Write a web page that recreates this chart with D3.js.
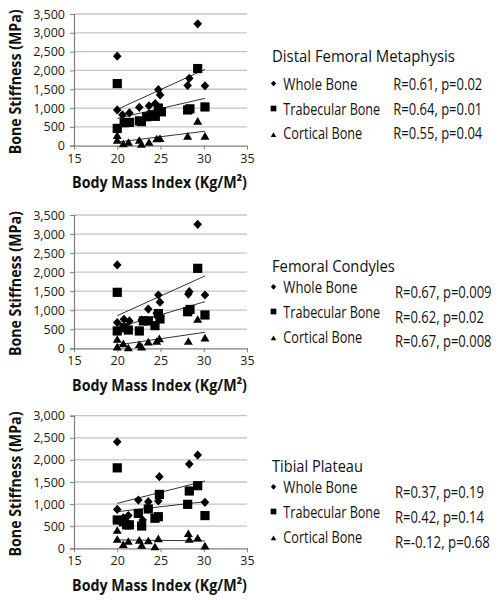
<!DOCTYPE html>
<html><head><meta charset="utf-8">
<script src="https://cdn.jsdelivr.net/npm/d3@7"></script>
<style>body{margin:0;background:#fff}</style>
</head><body><svg id="c" width="500" height="600"></svg>
<script>
// ---------- data ----------
const panelTitles = ["Distal Femoral Metaphysis", "Femoral Condyles", "Tibial Plateau"];
const seriesNames = ["Whole Bone", "Trabecular Bone", "Cortical Bone"];
const xTicks = [15, 20, 25, 30, 35];
const yTicks35 = [0, 500, 1000, 1500, 2000, 2500, 3000, 3500];
const yTicks30 = [0, 500, 1000, 1500, 2000, 2500, 3000];

// Distal Femoral Metaphysis  [BMI, stiffness]
const dfmWhole = [[20.0,2380],[29.3,3240],[20.0,950],[20.6,820],[21.4,870],[22.55,1020],[23.67,1060],[24.4,1120],[24.75,1490],[24.95,1350],[28.14,1600],[28.33,1790],[30.14,1590]];
const dfmTrab = [[20.0,1650],[20.0,460],[20.8,610],[21.4,620],[22.55,660],[22.8,640],[23.4,770],[24.0,820],[24.4,780],[24.75,1000],[25.1,900],[28.14,950],[28.4,980],[29.3,2050],[30.14,1030]];
const dfmCort = [[20.0,150],[20.0,280],[20.7,60],[21.3,100],[22.55,150],[22.8,45],[23.67,100],[24.56,190],[24.94,200],[28.14,260],[29.3,660],[30.14,260]];
const dfmTrend = [[20.0,965,30.14,2028],[20.0,726,30.14,1258],[20.0,95,30.14,385]];
const dfmStats = ["R=0.61, p=0.02", "R=0.64, p=0.01", "R=0.55, p=0.04"];

// Femoral Condyles
const fcWhole = [[20.0,2190],[29.3,3255],[20.0,675],[20.78,760],[21.4,720],[22.82,740],[23.59,1030],[24.56,920],[24.75,1400],[24.94,1210],[28.22,1425],[28.33,1487],[30.14,1400]];
const fcTrab = [[20.0,1470],[20.0,455],[20.78,540],[21.28,480],[22.55,455],[23.02,720],[23.59,720],[24.36,595],[24.75,910],[24.94,770],[28.14,960],[28.41,1020],[29.3,2100],[30.14,875]];
const fcCort = [[20.0,245],[20.0,45],[20.7,130],[21.28,20],[22.55,105],[22.82,45],[23.59,175],[24.56,190],[24.87,260],[28.22,190],[29.3,770],[30.14,280]];
const fcTrend = [[20.0,857,30.14,1900],[20.0,542,30.14,1225],[20.0,87,30.14,420]];
const fcStats = ["R=0.67, p=0.009", "R=0.62, p=0.02", "R=0.67, p=0.008"];

// Tibial Plateau
const tpWhole = [[20.0,2410],[29.3,2110],[28.33,1905],[24.87,1620],[20.0,880],[22.44,1090],[23.59,1055],[24.75,1070],[30.14,1040],[22.94,640],[20.7,690],[21.28,740]];
const tpTrab = [[20.0,1820],[20.0,640],[20.7,600],[21.09,530],[21.4,530],[22.44,790],[22.82,505],[23.59,890],[24.36,680],[24.75,715],[24.87,1220],[28.14,995],[28.33,1296],[29.3,1417],[30.14,740]];
const tpCort = [[20.0,415],[20.0,210],[20.7,90],[21.28,165],[22.55,190],[22.82,75],[23.59,175],[24.36,40],[24.75,225],[28.22,340],[28.33,210],[29.3,240],[30.14,60]];
const tpTrend = [[20.0,1017,30.14,1522],[20.0,829,30.14,1055],[20.0,190,30.14,168]];
const tpStats = ["R=0.37, p=0.19", "R=0.42, p=0.14", "R=-0.12, p=0.68"];

// ---------- drawing ----------
const FONT = "'Open Sans', 'Noto Sans', sans-serif";
const svg = d3.select("#c");

const panels = [
  {title: panelTitles[0], series: [dfmWhole, dfmTrab, dfmCort], trend: dfmTrend, stats: dfmStats, ticks: yTicks35,
   top: 14, bottom: 145.7, titleY: 62.5, titleW: 183, itemY: [90, 115, 139.5], statY: [90, 115, 139.5], statX: 393.3,
   statW: [89, 89, 89]},
  {title: panelTitles[1], series: [fcWhole, fcTrab, fcCort], trend: fcTrend, stats: fcStats, ticks: yTicks35,
   top: 215, bottom: 348.3, titleY: 271.7, titleW: 123, itemY: [293.3, 318, 342.7], statY: [297.7, 322.7, 347.3], statX: 395,
   statW: [96.7, 89, 96.7]},
  {title: panelTitles[2], series: [tpWhole, tpTrab, tpCort], trend: tpTrend, stats: tpStats, ticks: yTicks30,
   top: 415.7, bottom: 548.3, titleY: 471.7, titleW: 91, itemY: [493.3, 518, 542.7], statY: [498.3, 523.3, 547.7], statX: 395,
   statW: [89, 89, 95]}
];
const itemW = [74, 97, 79];

// horizontally condense a text (about its anchor x) so that it spans w pixels
function fit(sel, w) {
  const n = sel.node().getComputedTextLength();
  const k = Math.min(1, w / n);
  const x0 = +(sel.attr("x") || 0);
  sel.attr("transform", `translate(${x0 * (1 - k)},0) scale(${k},1)`);
}

function marker(g, type, x, y, s) {
  if (type === 0) {
    const hw = 4.3 * s, hh = 4.6 * s;
    g.append("path").attr("d", `M${x},${y-hh}L${x+hw},${y}L${x},${y+hh}L${x-hw},${y}Z`).attr("fill", "#000");
  } else if (type === 1) {
    const h = 4.6 * s;
    g.append("rect").attr("x", x-h).attr("y", y-h).attr("width", 2*h).attr("height", 2*h).attr("fill", "#000");
  } else {
    const hw = 4.5 * s, hh = 3.8 * s;
    g.append("path").attr("d", `M${x},${y-hh}L${x+hw},${y+hh}L${x-hw},${y+hh}Z`).attr("fill", "#000");
  }
}

panels.forEach(p => {
  const g = svg.append("g");
  const x = d3.scaleLinear().domain([15, 35]).range([74, 247]);
  const yMax = p.ticks[p.ticks.length - 1];
  const y = d3.scaleLinear().domain([0, yMax]).range([p.bottom, p.top]);

  // gridlines
  g.selectAll(".grid").data(p.ticks.filter(t => t > 0)).join("line")
    .attr("x1", 74).attr("x2", 247).attr("y1", d => y(d)).attr("y2", d => y(d))
    .attr("stroke", "#c4c4c4").attr("stroke-width", 1.3);

  // y axis
  const ya = g.append("g").attr("transform", "translate(74,0)")
    .call(d3.axisLeft(y).tickValues(p.ticks).tickSize(4).tickPadding(5).tickFormat(d3.format(",")));
  ya.select(".domain").attr("stroke", "#7f7f7f").attr("stroke-width", 1.2);
  ya.selectAll(".tick line").attr("stroke", "#7f7f7f");
  ya.selectAll("text").attr("font-family", FONT).attr("font-size", 12.5).attr("fill", "#1a1a1a");

  // x axis
  const xa = g.append("g").attr("transform", `translate(0,${p.bottom})`)
    .call(d3.axisBottom(x).tickValues(xTicks).tickSize(4).tickPadding(4).tickSizeOuter(0));
  xa.select(".domain").attr("stroke", "#7f7f7f").attr("stroke-width", 1.2);
  xa.selectAll(".tick line").attr("stroke", "#7f7f7f");
  xa.selectAll("text").attr("font-family", FONT).attr("font-size", 12.5).attr("fill", "#1a1a1a");

  // axis titles
  g.append("text").attr("x", 159.5).attr("y", p.bottom + 42.3).attr("text-anchor", "middle")
    .attr("font-family", FONT).attr("font-weight", "bold").attr("font-size", 16.5).attr("fill", "#111")
    .text("Body Mass Index (Kg/M²)").call(fit, 175);
  g.append("g").attr("transform", `translate(20.5,${(p.top + p.bottom) / 2 + 2}) rotate(-90)`)
    .append("text").attr("x", 0).attr("y", 0).attr("text-anchor", "middle")
    .attr("font-family", FONT).attr("font-weight", "bold").attr("font-size", 16.5).attr("fill", "#111")
    .text("Bone Stiffness (MPa)").call(fit, 145);

  // trend lines
  p.trend.forEach(t => {
    g.append("line").attr("x1", x(t[0])).attr("y1", y(t[1])).attr("x2", x(t[2])).attr("y2", y(t[3]))
      .attr("stroke", "#333").attr("stroke-width", 1);
  });

  // points
  p.series.forEach((s, i) => {
    s.forEach(d => marker(g, i, x(d[0]), y(d[1]), 1));
  });

  // legend
  g.append("text").attr("x", 272).attr("y", p.titleY).attr("font-family", FONT).attr("font-size", 17)
    .attr("fill", "#111").text(p.title).call(fit, p.titleW);
  seriesNames.forEach((n, i) => {
    const my = p.itemY[i] - (i === 2 ? 4.8 : 6.5);
    marker(g, i, 273.5, my, 0.62);
    g.append("text").attr("x", 283.3).attr("y", p.itemY[i]).attr("font-family", FONT).attr("font-size", 15.5)
      .attr("fill", "#111").text(n).call(fit, itemW[i]);
    g.append("text").attr("x", p.statX).attr("y", p.statY[i]).attr("font-family", FONT).attr("font-size", 15.5)
      .attr("fill", "#111").text(p.stats[i]).call(fit, p.statW[i]);
  });
});
</script>
</body></html>
